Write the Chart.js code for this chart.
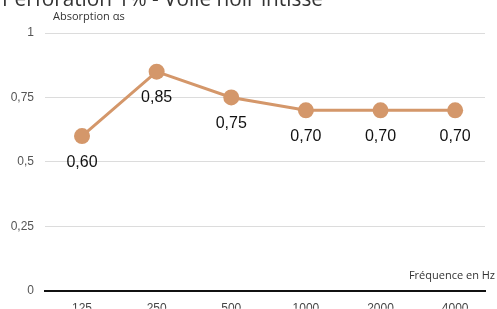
<!DOCTYPE html>
<html><head><meta charset="utf-8">
<script src="https://cdn.jsdelivr.net/npm/chart.js@4/dist/chart.umd.min.js"></script>
<style>
html,body{margin:0;padding:0;background:#fff;overflow:hidden;}
canvas{display:block;}
</style></head>
<body>
<canvas id="c" width="497" height="309"></canvas>
<script>
const titleText = "Perforation 1% - Voile noir intissé";
const categories = ["125", "250", "500", "1000", "2000", "4000"];
const absorption = [0.60, 0.85, 0.75, 0.70, 0.70, 0.70];
const yTicks = [0, 0.25, 0.5, 0.75, 1];

const fmt = v => String(v).replace('.', ',');
const fmt2 = v => v.toFixed(2).replace('.', ',');

const labelPlugin = {
  id: 'labels',
  afterDatasetsDraw(chart) {
    const ctx = chart.ctx;
    const meta = chart.getDatasetMeta(0);
    ctx.save();
    ctx.font = '16px "Liberation Sans", Arial, sans-serif';
    ctx.fillStyle = '#111';
    ctx.textAlign = 'center';
    ctx.textBaseline = 'middle';
    meta.data.forEach((pt, i) => {
      ctx.fillText(fmt2(absorption[i]), pt.x, pt.y + 26);
    });
    // title (partially cut off at top)
    ctx.textBaseline = 'alphabetic';
    ctx.textAlign = 'left';
    ctx.font = '22px "Open Sans", sans-serif';
    ctx.fillStyle = '#333';
    const w = ctx.measureText(titleText).width;
    ctx.save();
    ctx.translate(2, 6);
    ctx.scale(321 / w, 1);
    ctx.fillText(titleText, 0, 0);
    ctx.restore();
    // axis titles
    ctx.textBaseline = 'middle';
    ctx.font = '11px "Open Sans", sans-serif';
    ctx.fillStyle = '#333';
    ctx.textAlign = 'left';
    ctx.fillText('Absorption αs', 53, 17);
    ctx.textAlign = 'right';
    ctx.fillText('Fréquence en Hz', 495, 276);
    ctx.restore();
  }
};

new Chart(document.getElementById('c'), {
  type: 'line',
  data: {
    datasets: [{
      data: absorption.map((v, i) => ({x: i, y: v})),
      borderColor: '#D4976A',
      backgroundColor: '#D4976A',
      borderWidth: 3,
      pointRadius: 8,
      pointBackgroundColor: '#D4976A',
      pointBorderWidth: 0,
      tension: 0
    }]
  },
  options: {
    responsive: false,
    animation: false,
    layout: {padding: {top: 33, right: 12, left: 0, bottom: 0}},
    plugins: {legend: {display: false}, tooltip: {enabled: false}},
    scales: {
      x: {
        type: 'linear',
        min: -0.496,
        max: 5.40,
        afterBuildTicks: s => { s.ticks = categories.map((c, i) => ({value: i})); },
        afterFit: s => { s.height = 18; },
        ticks: {
          callback: (v) => categories[v] ?? '',
          font: {family: '"Liberation Sans", Arial, sans-serif', size: 12},
          color: '#444',
          padding: 11,
          maxRotation: 0,
          autoSkip: false
        },
        grid: {display: false, drawTicks: false},
        border: {display: true, color: '#111', width: 2}
      },
      y: {
        min: 0,
        max: 1,
        afterBuildTicks: s => { s.ticks = yTicks.map(v => ({value: v})); },
        afterFit: s => { s.width = 45; },
        ticks: {
          callback: v => fmt(v),
          font: {family: '"Liberation Sans", Arial, sans-serif', size: 12},
          color: '#555',
          padding: 11
        },
        grid: {color: '#dcdcdc', lineWidth: 1, drawTicks: false},
        border: {display: false}
      }
    }
  },
  plugins: [labelPlugin]
});
</script>
</body></html>
